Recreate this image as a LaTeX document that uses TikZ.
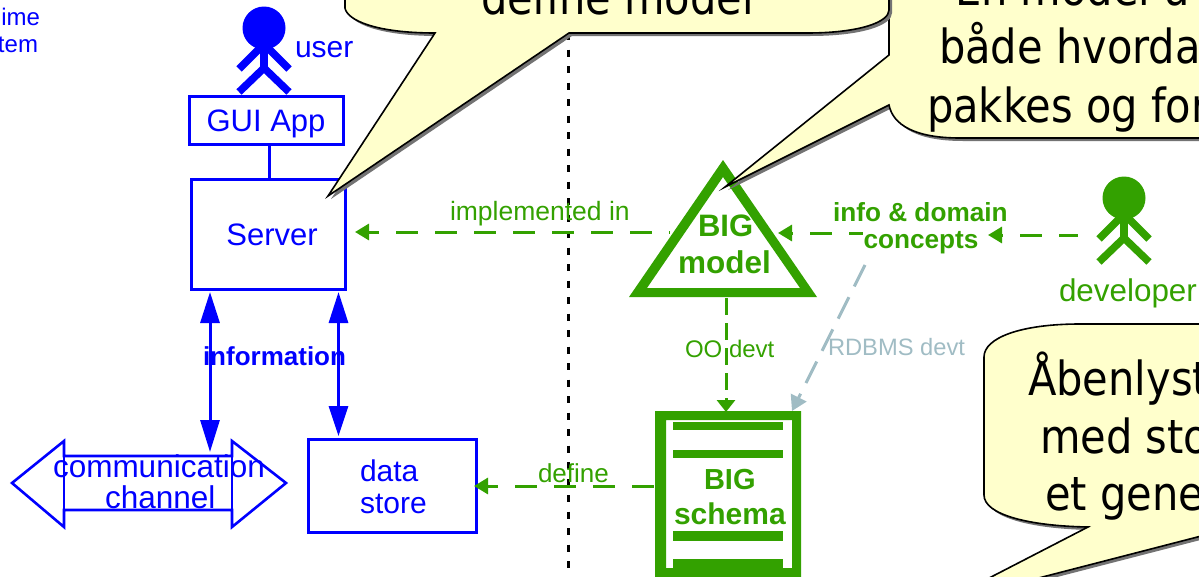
\documentclass[tikz,border=0pt]{standalone}
\usepackage{fontspec}
\setmainfont{Liberation Sans}
\newfontfamily\callfont{DejaVu Sans}[FakeStretch=0.885]
\usetikzlibrary{arrows.meta}
\definecolor{bl}{HTML}{0000FF}
\definecolor{gr}{HTML}{33A100}
\definecolor{gy}{HTML}{A0BCC4}
\definecolor{cy}{HTML}{FFFFCC}
\newcommand{\fs}[1]{\fontsize{#1pt}{#1pt}\selectfont}
\tikzset{
  x=1pt,y=-1pt,
  txt/.style={inner sep=0pt,outer sep=0pt,anchor=base west},
  lab/.style={txt,text=bl,font=\fs{30}},
  glab/.style={txt,text=gr,font=\fs{26.5}},
  gbold/.style={txt,text=gr,font=\fs{26.2}\bfseries},
  bigt/.style={txt,text=gr,font=\fs{31}\bfseries},
  call/.style={txt,text=black,font=\callfont\fs{47}},
  box/.style={draw=bl,line width=3pt,inner sep=0pt,text=bl,font=\fs{31}},
  limb/.style={line width=7.5pt,line cap=butt},
  dep/.style={draw=gr,line width=3pt,dash pattern=on 22pt off 17pt},
  depTip/.style={{Triangle[length=14pt,width=16pt]}-},
  bubble/.style={fill=cy,draw=black,line width=1.6pt,line join=miter},
  shade/.style={fill=black!55,draw=none},
}
\newcommand{\actor}[2]{% #1 colour, #2 centre x,y offset
  \begin{scope}[shift={#2}]
    \fill[#1] (0,-42) circle (21.5);
    \draw[#1,limb] (0,-26) -- (0,0);
    \draw[#1,limb] (0,-26) -- (-25,-1);
    \draw[#1,limb] (0,-26) -- (25,-1);
    \draw[#1,limb] (0,-2) -- (-25,22);
    \draw[#1,limb] (0,-2) -- (25,22);
  \end{scope}}
\begin{document}
\begin{tikzpicture}
\useasboundingbox (0,0) rectangle (1199,576);
\clip (0,0) rectangle (1199,576);
% divider
\coordinate (divT) at (568,33);
\coordinate (divB) at (568,580);
\draw[black,line width=3pt,dash pattern=on 7pt off 9.5pt] (divT) -- (divB);

% left-hand text
\node[txt,text=bl,font=\fs{24}] (t1) at (1.4,25) {ime};
\node[txt,text=bl,font=\fs{24}] (t2) at (-2,52) {tem};

% user
\actor{bl}{(264,70)}
\node[lab] (user) at (295,57) {user};
\node[box,minimum width=154pt,minimum height=48pt,text height=22pt,text depth=0pt] (gui) at (266,120) {GUI App};
\node[box,minimum width=154pt,minimum height=110pt,text height=22pt,text depth=0pt] (server) at (268,234) {\hspace*{8pt}Server};
\coordinate (guiS) at (269,144);
\coordinate (serverN) at (269,179);
\draw[bl,line width=3pt] (guiS) -- (serverN);

% data store and channel
\node[box,minimum width=168pt,minimum height=93pt] (store) at (392,485.5) {};
\node[lab] (st1) at (360,481) {data};
\node[lab] (st2) at (360,513) {store};
\draw[bl,line width=2.6pt,line join=miter] (12,483) -- (64,441) -- (64,456) -- (232,456) -- (232,441) -- (286,483) -- (232,527) -- (232,510) -- (64,510) -- (64,527) -- cycle;
\draw[bl,line width=2.6pt] (64,441) -- (64,527) (232,441) -- (232,527);
\node[txt,text=bl,font=\fs{31.5}] (comm) at (53,477) {communication};
\node[txt,text=bl,font=\fs{31.5}] (chan2) at (105,508) {channel};

% information arrows
\coordinate (a1) at (210,292);
\coordinate (a2) at (210,452);
\coordinate (b1) at (338.5,292);
\coordinate (b2) at (338.5,436);
\draw[bl,line width=3pt,{Triangle[length=31pt,width=19pt]}-{Triangle[length=32pt,width=19pt]}] (a1) -- (a2);
\draw[bl,line width=3pt,{Triangle[length=31pt,width=19pt]}-{Triangle[length=30pt,width=19pt]}] (b1) -- (b2);
\node[txt,text=bl,font=\fs{26}\bfseries] (info) at (203,365) {information};

% BIG model
\coordinate (mA) at (723,160);
\coordinate (mL) at (629,297);
\coordinate (mR) at (817,297);
\fill[gr,even odd rule] (mA) -- (mL) -- (mR) -- cycle (723,177) -- (647,288) -- (800,288) -- cycle;
\node[bigt] (big1) at (698,236) {BIG};
\node[bigt,font=\fs{31.5}\bfseries] (big2) at (678,273) {model};

% BIG schema
\fill[gr,even odd rule] (655,411) rectangle (801,590) (666,420) rectangle (792,568);
\fill[gr] (672.5,422) rectangle (783,430);
\fill[gr] (672.5,450) rectangle (783,458);
\fill[gr] (672.5,531) rectangle (783,541);
\fill[gr] (672.5,559) rectangle (783,568);
\node[bigt,font=\fs{29}\bfseries] (sch1) at (704,489) {BIG};
\node[bigt,font=\fs{30}\bfseries] (sch2) at (674,524) {schema};

% developer
\actor{gr}{(1124,240)}
\node[txt,text=gr,font=\fs{31.4}] (dev) at (1059,301) {developer};

% dependency arrows
\coordinate (d1) at (670,232);
\coordinate (d2) at (355,232);
\draw[dep,depTip,dash phase=11pt] (d2) -- (d1);
\node[glab] (impl) at (450,220) {implemented in};

\coordinate (e1) at (863,233);
\coordinate (e2) at (778,233);
\draw[dep,depTip,dash phase=20pt] (e2) -- (e1);
\coordinate (f1) at (1078,235);
\coordinate (f2) at (988,235);
\draw[dep,depTip,dash phase=20pt] (f2) -- (f1);
\node[gbold] (idc) at (833,221) {info \& domain};
\node[gbold] (idc2) at (863.5,248) {concepts};

\coordinate (g1) at (726,298);
\coordinate (g2) at (726,412);
\draw[dep,dash pattern=on 17pt off 8pt,-{Triangle[length=12pt,width=18pt]}] (g1) -- (g2);
\node[txt,text=gr,font=\fs{24}] (oo) at (685,357) {OO devt};

\coordinate (h1) at (865,265);
\coordinate (h2) at (792,411);
\draw[draw=gy,line width=3pt,dash pattern=on 24pt off 12pt,-{Triangle[length=15pt,width=17pt]}] (h1) -- (h2);
\node[txt,text=gy,font=\fs{23.7}] (rdb) at (828,355) {RDBMS devt};

\coordinate (j1) at (660,486);
\coordinate (j2) at (474,486);
\draw[dep,depTip,dash phase=11pt] (j2) -- (j1);
\node[glab,font=\fs{26}] (def) at (538,482) {define};

% callouts
\def\calloutB{(889,-20) -- (889,55) -- (725,187) -- (889,105) .. controls (893,125) and (915,138) .. (960,138) -- (1240,138) -- (1240,-20) -- cycle}
\def\calloutA{(345,-20) -- (345,8) .. controls (347,20) and (375,33) .. (435,33) -- (328,196) -- (569,33) -- (807,33) .. controls (860,33) and (889,22) .. (889,10) -- (889,-20) -- cycle}
\def\calloutC{(984,357) .. controls (984,338) and (1020,324) .. (1080,324) -- (1240,324) -- (1240,526) -- (939.5,603.6) -- (1088,527) .. controls (1030,526) and (984,515) .. (984,495) -- cycle}
\fill[shade,shift={(3,3)}] \calloutB;
\draw[bubble] \calloutB;
\fill[shade,shift={(3,3)}] \calloutA;
\draw[bubble] \calloutA;
\fill[shade,shift={(3,3)}] \calloutC;
\draw[bubble] \calloutC;

\node[call] (c1) at (481,14) {define model};
\node[call] (c2a) at (955,5) {En model u};
\node[call] (c2b) at (939,63) {både hvorda};
\node[call] (c2c) at (927,122) {pakkes og for};
\node[call] (c3a) at (1028,395) {Åbenlyst};
\node[call] (c3b) at (1040,453) {med sto};
\node[call] (c3c) at (1045,510) {et gene};
\end{tikzpicture}
\end{document}
